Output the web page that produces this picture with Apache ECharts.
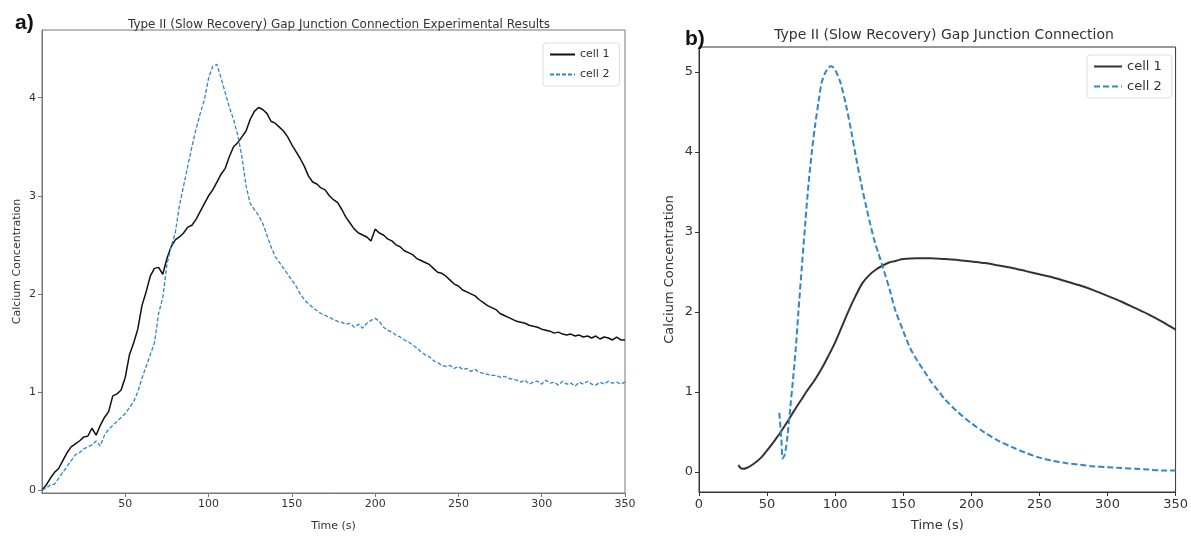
<!DOCTYPE html>
<html>
<head>
<meta charset="utf-8">
<script src="https://cdn.jsdelivr.net/npm/echarts@6/dist/echarts.min.js"></script>
<style>
  html, body { margin: 0; padding: 0; background: #fff; }
  #chart { width: 1191px; height: 537px; }
</style>
</head>
<body>
<div id="chart"></div>
<script>
// panel a: experimental traces [time, value]
const expCell1 = [
  [0,0.00],[2.5,0.05],[5,0.12],[7.5,0.18],[10,0.22],[12.5,0.30],[15,0.38],[17.5,0.44],[20,0.47],[22.5,0.50],
  [25,0.54],[27.5,0.55],[30,0.63],[32.5,0.56],[35,0.66],[37.5,0.74],[40,0.80],[42.5,0.96],[45,0.98],[47.5,1.02],
  [50,1.15],[52.5,1.38],[55,1.50],[57.5,1.64],[60,1.88],[62.5,2.02],[65,2.18],[67.5,2.26],[70,2.27],[72.5,2.20],
  [75,2.36],[77.5,2.48],[80,2.55],[82.5,2.58],[85,2.62],[87.5,2.68],[90,2.70],[92.5,2.76],[95,2.84],[97.5,2.92],
  [100,3.00],[102.5,3.06],[105,3.14],[107.5,3.22],[110,3.28],[112.5,3.40],[115,3.50],[117.5,3.54],[120,3.60],[122.5,3.66],
  [125,3.78],[127.5,3.86],[130,3.90],[132.5,3.88],[135,3.84],[137.5,3.76],[140,3.74],[142.5,3.70],[145,3.66],[147.5,3.60],
  [150,3.52],[152.5,3.45],[155,3.38],[157.5,3.30],[160,3.20],[162.5,3.14],[165,3.12],[167.5,3.08],[170,3.06],[172.5,3.00],
  [175,2.96],[177.5,2.93],[180,2.86],[182.5,2.78],[185,2.72],[187.5,2.66],[190,2.62],[192.5,2.60],[195,2.58],[197.5,2.54],
  [200,2.66],[202.5,2.62],[205,2.60],[207.5,2.56],[210,2.54],[212.5,2.50],[215,2.48],[217.5,2.44],[220,2.42],[222.5,2.40],
  [225,2.36],[227.5,2.34],[230,2.32],[232.5,2.30],[235,2.26],[237.5,2.22],[240,2.21],[242.5,2.18],[245,2.14],[247.5,2.10],
  [250,2.08],[252.5,2.04],[255,2.02],[257.5,2.00],[260,1.98],[262.5,1.94],[265,1.91],[267.5,1.88],[270,1.86],[272.5,1.84],
  [275,1.80],[277.5,1.78],[280,1.76],[282.5,1.74],[285,1.72],[287.5,1.71],[290,1.70],[292.5,1.68],[295,1.67],[297.5,1.66],
  [300,1.64],[302.5,1.63],[305,1.62],[307.5,1.60],[310,1.61],[312.5,1.59],[315,1.58],[317.5,1.59],[320,1.57],[322.5,1.58],
  [325,1.56],[327.5,1.57],[330,1.55],[332.5,1.57],[335,1.54],[337.5,1.56],[340,1.55],[342.5,1.53],[345,1.56],[347.5,1.53],
  [350,1.53]
]
const expCell2 = [
  [0,0.00],[2.5,0.02],[5,0.05],[7.5,0.06],[10,0.12],[12.5,0.18],[15,0.24],[17.5,0.30],[20,0.36],[22.5,0.38],
  [25,0.42],[27.5,0.44],[30,0.46],[32.5,0.50],[35,0.45],[37.5,0.56],[40,0.62],[42.5,0.66],[45,0.70],[47.5,0.74],
  [50,0.78],[52.5,0.84],[55,0.90],[57.5,1.00],[60,1.14],[62.5,1.26],[65,1.38],[67.5,1.50],[70,1.80],[72.5,1.96],
  [75,2.30],[77.5,2.48],[80,2.62],[82.5,2.90],[85,3.10],[87.5,3.30],[90,3.50],[92.5,3.68],[95,3.84],[97.5,3.98],
  [100,4.20],[102.5,4.32],[105,4.34],[107.5,4.20],[110,4.05],[112.5,3.90],[115,3.78],[117.5,3.62],[120,3.40],[122.5,3.10],
  [125,2.92],[127.5,2.86],[130,2.80],[132.5,2.72],[135,2.60],[137.5,2.48],[140,2.38],[142.5,2.32],[145,2.26],[147.5,2.20],
  [150,2.14],[152.5,2.08],[155,2.00],[157.5,1.94],[160,1.90],[162.5,1.86],[165,1.83],[167.5,1.80],[170,1.78],[172.5,1.76],
  [175,1.74],[177.5,1.72],[180,1.71],[182.5,1.69],[185,1.70],[187.5,1.66],[190,1.69],[192.5,1.65],[195,1.70],[197.5,1.73],
  [200,1.75],[202.5,1.72],[205,1.66],[207.5,1.63],[210,1.61],[212.5,1.58],[215,1.56],[217.5,1.53],[220,1.51],[222.5,1.48],
  [225,1.45],[227.5,1.41],[230,1.38],[232.5,1.36],[235,1.32],[237.5,1.30],[240,1.27],[242.5,1.26],[245,1.27],[247.5,1.24],
  [250,1.26],[252.5,1.23],[255,1.24],[257.5,1.21],[260,1.23],[262.5,1.20],[265,1.19],[267.5,1.18],[270,1.17],[272.5,1.17],
  [275,1.15],[277.5,1.16],[280,1.14],[282.5,1.13],[285,1.12],[287.5,1.10],[290,1.12],[292.5,1.08],[295,1.10],[297.5,1.11],
  [300,1.08],[302.5,1.12],[305,1.09],[307.5,1.10],[310,1.07],[312.5,1.11],[315,1.08],[317.5,1.09],[320,1.06],[322.5,1.10],
  [325,1.08],[327.5,1.11],[330,1.08],[332.5,1.07],[335,1.10],[337.5,1.08],[340,1.11],[342.5,1.09],[345,1.10],[347.5,1.08],
  [350,1.10]
]

// panel b: model traces [time, value]
const modelCell1 = [
  [29,0.09],[30,0.06],[32,0.04],[35,0.05],[40,0.10],[45,0.17],[50,0.27],[55,0.38],[60,0.50],[65,0.63],
  [70,0.77],[75,0.90],[80,1.03],[85,1.15],[90,1.29],[95,1.45],[100,1.62],[105,1.82],[110,2.02],[115,2.20],
  [120,2.36],[125,2.46],[130,2.53],[135,2.58],[140,2.62],[145,2.64],[150,2.66],[160,2.67],[170,2.67],[180,2.66],
  [190,2.65],[200,2.63],[210,2.61],[220,2.58],[230,2.55],[240,2.51],[250,2.47],[260,2.43],[270,2.38],[280,2.33],
  [290,2.27],[300,2.20],[310,2.13],[320,2.05],[330,1.97],[340,1.88],[350,1.78]
]
const modelCell2 = [
  [59,0.74],[60.5,0.40],[61.5,0.17],[63,0.22],[65,0.45],[67,0.80],[69,1.15],[71,1.53],[73,2.00],[75.5,2.56],
  [78,3.10],[80.5,3.61],[83,4.02],[85.5,4.36],[88,4.65],[90,4.86],[92.5,4.98],[95,5.05],[97,5.07],[99,5.05],
  [101,4.99],[104,4.86],[108,4.58],[112,4.24],[115,3.96],[119,3.61],[123,3.30],[126,3.08],[129,2.88],[132,2.72],
  [135,2.56],[140,2.28],[144,2.03],[150,1.76],[155,1.55],[160,1.40],[165,1.27],[170,1.14],[175,1.03],[180,0.92],
  [190,0.75],[200,0.61],[210,0.49],[220,0.39],[230,0.31],[240,0.24],[250,0.18],[260,0.14],[270,0.11],[280,0.09],
  [290,0.07],[300,0.06],[310,0.05],[320,0.04],[330,0.03],[340,0.02],[350,0.02]
]

const seriesNames = ['cell 1', 'cell 2']
const black = '#111111'
const blue = '#2f86c9'
const font = 'DejaVu Sans'

// only whole-number labels; the axis ends are not on the 1-unit grid
const intLabel = v => (Math.abs(v - Math.round(v)) < 1e-6 ? String(Math.round(v)) : '')

function axisCommon(size, color) {
  return {
    axisLine: { show: true, onZero: false, lineStyle: { color: color, width: 1 } },
    axisTick: { show: true, length: 4, lineStyle: { color: color } },
    axisLabel: { color: '#333', fontSize: size, fontFamily: font, margin: 6 },
    splitLine: { show: false },
    nameTextStyle: { color: '#333', fontSize: size, fontFamily: font }
  }
}

const chart = echarts.init(document.getElementById('chart'))

chart.setOption({
  animation: false,
  backgroundColor: '#fff',
  title: [
    { text: 'a)', left: 10, top: 8, textStyle: { fontSize: 21, fontWeight: 'bold', color: '#111', fontFamily: 'Liberation Sans' } },
    { text: 'b)', left: 680, top: 24, textStyle: { fontSize: 21, fontWeight: 'bold', color: '#111', fontFamily: 'Liberation Sans' } },
    { text: 'Type II (Slow Recovery) Gap Junction Connection Experimental Results', left: 334, top: 14, textAlign: 'center',
      textStyle: { fontSize: 12, fontWeight: 'normal', color: '#333', fontFamily: font } },
    { text: 'Type II (Slow Recovery) Gap Junction Connection', left: 939, top: 23, textAlign: 'center',
      textStyle: { fontSize: 14, fontWeight: 'normal', color: '#333', fontFamily: font } }
  ],
  legend: [
    {
      data: seriesNames, orient: 'vertical', left: 543, top: 43,
      itemWidth: 25, itemHeight: 10, itemGap: 9, padding: [6, 10, 6, 6],
      itemStyle: { opacity: 0 },
      backgroundColor: '#fff', borderColor: '#ddd', borderWidth: 1, borderRadius: 3,
      textStyle: { fontSize: 11, color: '#333', fontFamily: font },
      selectedMode: false
    },
    {
      data: [
        { name: 'cell 1', itemStyle: { opacity: 0 }, lineStyle: { color: '#333', width: 2 } },
        { name: 'cell 2', itemStyle: { opacity: 0 }, lineStyle: { color: blue, width: 2, type: [6, 3] } }
      ],
      orient: 'vertical', left: 1087, top: 55,
      itemWidth: 28, itemHeight: 10, itemGap: 7, padding: [5, 10, 5, 6],
      itemStyle: { opacity: 0 },
      backgroundColor: '#fff', borderColor: '#ddd', borderWidth: 1, borderRadius: 3,
      textStyle: { fontSize: 13, color: '#333', fontFamily: font },
      selectedMode: false
    }
  ],
  grid: [
    { left: 42, right: 566, top: 30, bottom: 40, show: true, borderColor: '#777', borderWidth: 1, backgroundColor: 'transparent' },
    { left: 699, right: 12, top: 47, bottom: 44, show: true, borderColor: '#333', borderWidth: 1, backgroundColor: 'transparent' }
  ],
  xAxis: [
    Object.assign(axisCommon(11, '#777'), {
      type: 'value', gridIndex: 0, min: 0, max: 350, interval: 50,
      name: 'Time (s)', nameLocation: 'middle', nameGap: 28
    }),
    Object.assign(axisCommon(13, '#333'), {
      type: 'value', gridIndex: 1, min: 0, max: 350, interval: 50,
      name: 'Time (s)', nameLocation: 'middle', nameGap: 27
    })
  ],
  yAxis: [
    Object.assign(axisCommon(11, '#777'), {
      type: 'value', gridIndex: 0, min: -0.03, max: 4.69,
      name: 'Calcium Concentration', nameLocation: 'middle', nameGap: 19
    }),
    Object.assign(axisCommon(13, '#333'), {
      type: 'value', gridIndex: 1, min: -0.25, max: 5.31,
      name: 'Calcium Concentration', nameLocation: 'middle', nameGap: 23
    })
  ],
  series: [
    { name: 'cell 1', type: 'line', xAxisIndex: 0, yAxisIndex: 0, data: expCell1, showSymbol: false, symbol: 'none',
      lineStyle: { color: black, width: 1.5 }, itemStyle: { color: black } },
    { name: 'cell 2', type: 'line', xAxisIndex: 0, yAxisIndex: 0, data: expCell2, showSymbol: false, symbol: 'none',
      lineStyle: { color: blue, width: 1.3, type: [4, 2] }, itemStyle: { color: blue } },
    { name: 'cell 1', type: 'line', xAxisIndex: 1, yAxisIndex: 1, data: modelCell1, showSymbol: false, symbol: 'none', smooth: 0.3,
      lineStyle: { color: '#333', width: 2 }, itemStyle: { color: '#333' } },
    { name: 'cell 2', type: 'line', xAxisIndex: 1, yAxisIndex: 1, data: modelCell2, showSymbol: false, symbol: 'none', smooth: 0.3,
      lineStyle: { color: blue, width: 2, type: [6, 3] }, itemStyle: { color: blue } }
  ]
})

chart.setOption({
  xAxis: [{ axisLabel: { showMinLabel: false } }, {}],
  yAxis: [
    { axisLabel: { showMinLabel: false, showMaxLabel: false, formatter: intLabel } },
    { axisLabel: { showMinLabel: false, showMaxLabel: false, formatter: intLabel } }
  ]
})
</script>
</body>
</html>
